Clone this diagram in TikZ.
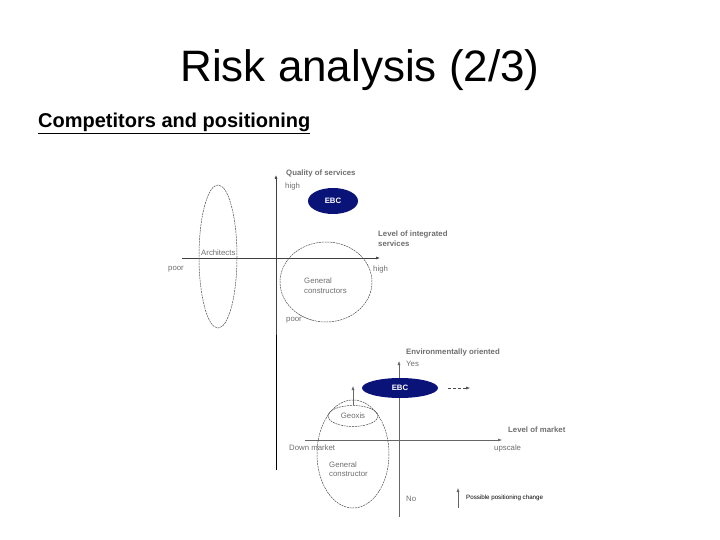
\documentclass[tikz,border=0pt]{standalone}
\usepackage{fontspec}
\setmainfont{Liberation Sans}
\usetikzlibrary{arrows.meta}
\definecolor{ebcblue}{RGB}{10,20,120}
\definecolor{lbl}{RGB}{110,110,110}
\begin{document}
\begin{tikzpicture}[x=1pt,y=-1pt,
  axis/.style={draw=black!75,line width=0.6pt,-{Latex[length=4pt,width=3pt]}},
  dashell/.style={draw=black!70,line width=0.5pt,dash pattern=on 2pt off 0.8pt},
  lab/.style={font=\fontsize{7.8}{9.5}\selectfont,text=lbl,inner sep=0pt},
  blab/.style={font=\fontsize{7.8}{10}\selectfont\bfseries,text=lbl,inner sep=0pt,align=left},
  ebctext/.style={font=\fontsize{7.8}{9}\selectfont\bfseries,text=white,inner sep=0pt}]
\useasboundingbox (0,0) rectangle (720,540);
% title
\node[font=\fontsize{44}{50}\selectfont,inner sep=0pt] (title) at (360,70) {Risk analysis (2/3)};
\node[font=\fontsize{20}{23}\selectfont\bfseries,anchor=west,inner sep=0pt] (sub) at (38,123) {\underline{Competitors and positioning}};
% ===== chart 1 =====
\coordinate (v1b) at (276,335);
\coordinate (v1t) at (276,175);
\coordinate (v1e) at (276,470);
\coordinate (h1l) at (182,258);
\coordinate (h1r) at (380,258);
\draw[draw=black,line width=1pt] (v1e) -- (v1b);
\draw[axis] (v1b) -- (v1t);
\draw[axis] (h1l) -- (h1r);
\node[blab,anchor=west] (qos) at (286,173) {Quality of services};
\node[lab,anchor=west] (qh) at (285,186) {high};
\fill[ebcblue] (333,201) ellipse [x radius=25,y radius=13];
\node[ebctext] (ebc1) at (333,201) {EBC};
\node[blab,anchor=west] (lis) at (378,239) {Level of integrated\\services};
\node[lab,anchor=west] (ih) at (373,269) {high};
\node[lab,anchor=west] (ip) at (168,269) {poor};
\draw[dashell] (218,256.5) ellipse [x radius=19,y radius=71.5];
\node[lab,anchor=west] (arch) at (201,253) {Architects};
\draw[dashell] (326,282) ++(125:46 and 40) arc [start angle=125,end angle=-253,x radius=46,y radius=40];
\node[lab,anchor=west,align=left] (gc1) at (304,285.5) {General\\constructors};
\node[lab,anchor=west] (qp) at (286,320) {poor};
% ===== chart 2 =====
\coordinate (v2b) at (399,517);
\coordinate (v2t) at (399,361);
\coordinate (h2l) at (305,440);
\coordinate (h2r) at (502,440);
\draw[axis,draw=black!60,line width=0.5pt] (v2b) -- (v2t);
\draw[axis,draw=black!60,line width=0.5pt] (h2l) -- (h2r);
\node[blab,anchor=west] (env) at (406,352) {Environmentally oriented};
\node[lab,anchor=west] (yes) at (406,364) {Yes};
\fill[ebcblue] (400,388) ellipse [x radius=38,y radius=10];
\node[ebctext] (ebc2) at (400,388) {EBC};
\coordinate (da1) at (448,388);
\coordinate (da2) at (470,388);
\draw[dash pattern=on 3pt off 2pt,draw=black!70,line width=0.5pt,-{Latex[length=4pt,width=3pt]}] (da1) -- (da2);
\draw[dashell] (353,454) ellipse [x radius=36,y radius=54];
\draw[dashell] (353,416) ellipse [x radius=25,y radius=10.5];
\node[lab] (geo) at (353,416) {Geoxis};
\coordinate (ga1) at (353,405);
\coordinate (ga2) at (353,386);
\draw[draw=black!60,line width=0.5pt,-{Latex[length=4pt,width=3pt]}] (ga1) -- (ga2);
\node[blab,anchor=west] (lom) at (508,430) {Level of market};
\node[lab,anchor=west] (dm) at (289,448) {Down market};
\node[lab,anchor=west] (up) at (494,448) {upscale};
\node[lab,anchor=west,align=left] (gc2) at (329,469) {General\\constructor};
\node[lab,anchor=west] (no) at (406,499) {No};
\coordinate (la1) at (458,508);
\coordinate (la2) at (458,488);
\draw[draw=black!60,line width=0.5pt,-{Latex[length=4pt,width=3pt]}] (la1) -- (la2);
\node[font=\fontsize{6.2}{7}\selectfont,anchor=west,inner sep=0pt] (leg) at (466,498) {Possible positioning change};
\end{tikzpicture}
\end{document}
